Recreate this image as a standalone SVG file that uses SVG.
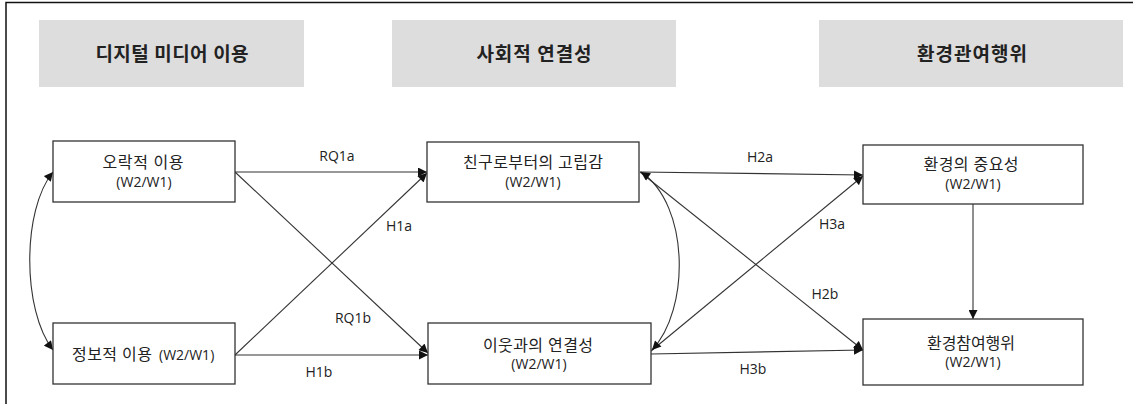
<svg xmlns="http://www.w3.org/2000/svg" width="1133" height="404" viewBox="0 0 1133 404">
<defs>
<marker id="ah" viewBox="0 0 10 10" refX="10" refY="5" markerWidth="10" markerHeight="9" markerUnits="userSpaceOnUse" orient="auto-start-reverse">
<path d="M0,0 L10,5 L0,10 z" fill="#111"/>
</marker>
<style>
text{font-family:"Open Sans","Noto Sans CJK KR",sans-serif;fill:#222;}
.hd{fill:#dddddd;stroke:none;}
.ht{font-size:19px;font-weight:bold;text-anchor:middle;}
.box{fill:#fff;stroke:#333;stroke-width:1.3;}
.nt{font-size:14px;text-anchor:middle;}
.kt{font-size:16px;text-anchor:middle;}
.lb{font-size:14px;text-anchor:middle;}
.ln{fill:none;stroke:#333;stroke-width:1.1;marker-end:url(#ah);}
.bi{fill:none;stroke:#333;stroke-width:1.1;marker-end:url(#ah);marker-start:url(#ah);}
</style>
</defs>
<rect x="0" y="0" width="1133" height="404" fill="#fff"/>
<path d="M6,404 V2.5 H1133" fill="none" stroke="#111" stroke-width="1.5"/>

<g id="header1"><rect class="hd" x="39" y="20" width="265" height="67"/><text class="ht" x="172" y="61" textLength="153" lengthAdjust="spacing">디지털 미디어 이용</text></g>
<g id="header2"><rect class="hd" x="392" y="20" width="284" height="67"/><text class="ht" x="534" y="61" textLength="115" lengthAdjust="spacing">사회적 연결성</text></g>
<g id="header3"><rect class="hd" x="819" y="20" width="304" height="67"/><text class="ht" x="972" y="61" textLength="110" lengthAdjust="spacing">환경관여행위</text></g>

<g id="connectors">
<path class="ln" d="M235,172 L427,172"/>
<path class="ln" d="M235,172 L428,353"/>
<path class="ln" d="M235,355 L427,173"/>
<path class="ln" d="M235,355 L428,355"/>
<path class="bi" d="M53,172 C22,210 22,310 53,350"/>
<path class="ln" d="M640,172 L863,175"/>
<path class="ln" d="M640,172 L863,350"/>
<path class="ln" d="M651,351 L863,176"/>
<path class="ln" d="M651,354 L863,350"/>
<path class="bi" d="M641,172 C690,205 690,310 652,350"/>
<path class="ln" d="M973,204 L973,319"/>
<text class="lb" x="337" y="161">RQ1a</text>
<text class="lb" x="399" y="231">H1a</text>
<text class="lb" x="353" y="323">RQ1b</text>
<text class="lb" x="319" y="377">H1b</text>
<text class="lb" x="760" y="162">H2a</text>
<text class="lb" x="832" y="229">H3a</text>
<text class="lb" x="825" y="299">H2b</text>
<text class="lb" x="753" y="374">H3b</text>
</g>

<g id="nodeA"><rect class="box" x="53" y="141" width="182" height="61"/><text class="kt" x="143" y="168" textLength="81" lengthAdjust="spacing">오락적 이용</text><text class="nt" x="144" y="187">(W2/W1)</text></g>
<g id="nodeB"><rect class="box" x="53" y="323" width="182" height="61"/><text class="kt" x="72" y="360" style="text-anchor:start" textLength="80" lengthAdjust="spacing">정보적 이용</text><text class="nt" x="159" y="360" style="text-anchor:start">(W2/W1)</text></g>
<g id="nodeC"><rect class="box" x="427" y="142" width="212" height="60"/><text class="kt" x="533" y="168" textLength="140" lengthAdjust="spacing">친구로부터의 고립감</text><text class="nt" x="533" y="187">(W2/W1)</text></g>
<g id="nodeD"><rect class="box" x="428" y="323" width="223" height="61"/><text class="kt" x="538" y="351" textLength="110" lengthAdjust="spacing">이웃과의 연결성</text><text class="nt" x="539" y="369">(W2/W1)</text></g>
<g id="nodeE"><rect class="box" x="863" y="145" width="220" height="59"/><text class="kt" x="971" y="170" textLength="95" lengthAdjust="spacing">환경의 중요성</text><text class="nt" x="973" y="189">(W2/W1)</text></g>
<g id="nodeF"><rect class="box" x="863" y="319" width="220" height="66"/><text class="kt" x="971" y="349" textLength="88" lengthAdjust="spacing">환경참여행위</text><text class="nt" x="973" y="367">(W2/W1)</text></g>
</svg>
